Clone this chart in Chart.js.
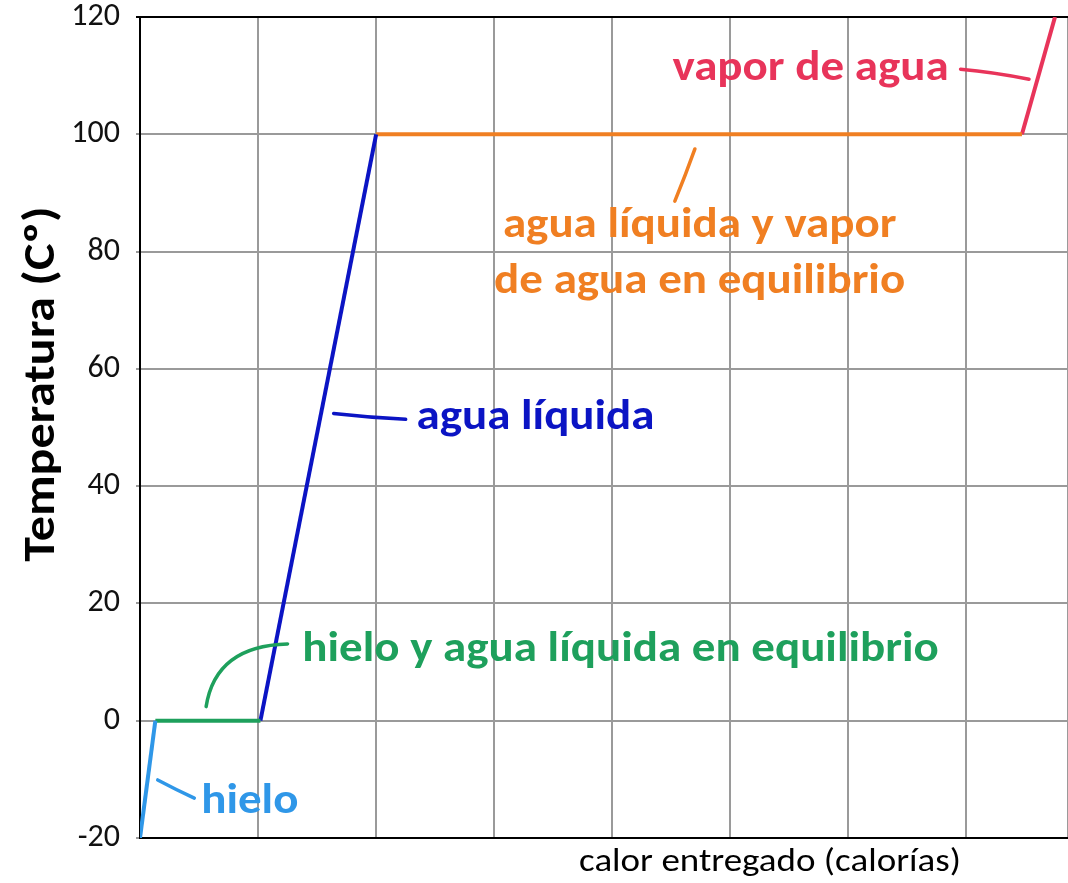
<!DOCTYPE html>
<html>
<head>
<meta charset="utf-8">
<script src="https://cdn.jsdelivr.net/npm/chart.js@4/dist/chart.umd.min.js"></script>
<style>
  html, body { margin: 0; padding: 0; background: #fff; }
  #wrap { width: 1068px; height: 883px; }
</style>
</head>
<body>
<div id="wrap"><canvas id="heatChart"></canvas></div>
<script>
// curva de calentamiento del agua
const phaseNames = ['hielo', 'hielo y agua líquida en equilibrio', 'agua líquida', 'agua líquida y vapor de agua en equilibrio', 'vapor de agua'];
const phaseColors = ['#2f97e8', '#1ea05c', '#0b14c4', '#f07f22', '#e8345a'];
const heatValues = [0, 0.13, 1.02, 2, 7.47, 7.75];   // calor entregado (unidades de grilla)
const tempValues = [-20, 0, 0, 100, 100, 120];        // temperatura (°C)
const yTicks = [-20, 0, 20, 40, 60, 80, 100, 120];

const FONT = 'Carlito, Lato, "Open Sans", sans-serif';

// one dataset per phase, each segment goes from point i to i+1
const datasets = phaseNames.map((name, i) => ({
    label: name,
    data: [{x: heatValues[i], y: tempValues[i]}, {x: heatValues[i + 1], y: tempValues[i + 1]}],
    borderColor: phaseColors[i],
    borderWidth: 4,
    pointRadius: 0,
    tension: 0
}));

// text labels + leader strokes, in data coordinates
const notes = [
    {lines: ['vapor de agua'], color: 4, x: 5.68, y: 109.2, lead: [[6.95, 111.1], [7.23, 110.6], [7.53, 109.4]]},
    {lines: ['agua líquida y vapor', 'de agua en equilibrio'], color: 3, x: 4.74, y: 82.4, gap: 9.5, lead: [[4.70, 97.5], [4.62, 93.0], [4.53, 88.6]]},
    {lines: ['agua líquida'], color: 2, x: 3.35, y: 49.8, lead: [[1.64, 52.4], [1.95, 51.7], [2.25, 51.4]]},
    {lines: ['hielo y agua líquida en equilibrio'], color: 1, x: 4.07, y: 10.2, lead: [[0.56, 2.4], [0.64, 12.8], [1.25, 13.1]]},
    {lines: ['hielo'], color: 0, x: 0.93, y: -15.7, lead: [[0.15, -10.1], [0.31, -11.8], [0.46, -13.2]]}
];

function squashText(ctx, text, x, y, sy) {
    ctx.save();
    ctx.translate(x, y);
    ctx.scale(1, sy);
    ctx.fillText(text, 0, 0);
    ctx.restore();
}

const notesPlugin = {
    id: 'notes',
    afterDatasetsDraw(chart) {
        const ctx = chart.ctx;
        const xs = chart.scales.x, ys = chart.scales.y;
        ctx.save();
        notes.forEach(n => {
            const col = phaseColors[n.color];
            ctx.strokeStyle = col;
            ctx.lineWidth = 3.5;
            ctx.lineCap = 'round';
            const p = n.lead.map(q => [xs.getPixelForValue(q[0]), ys.getPixelForValue(q[1])]);
            ctx.beginPath();
            ctx.moveTo(p[0][0], p[0][1]);
            ctx.quadraticCurveTo(p[1][0], p[1][1], p[2][0], p[2][1]);
            ctx.stroke();

            ctx.fillStyle = col;
            ctx.font = 'bold 47px ' + FONT;
            ctx.textAlign = 'center';
            ctx.textBaseline = 'alphabetic';
            n.lines.forEach((t, k) => {
                squashText(ctx, t, xs.getPixelForValue(n.x), ys.getPixelForValue(n.y - k * (n.gap || 0)), 0.9);
            });
        });

        // axis titles
        ctx.fillStyle = '#000';
        ctx.font = '37px ' + FONT;
        ctx.textAlign = 'center';
        squashText(ctx, 'calor entregado (calorías)', 770, 871, 0.86);

        ctx.save();
        ctx.translate(54, 384);
        ctx.rotate(-Math.PI / 2);
        ctx.font = 'bold 50px ' + FONT;
        squashText(ctx, 'Temperatura (Cº)', 0, 0, 0.88);
        ctx.restore();
        ctx.restore();
    }
};

new Chart(document.getElementById('heatChart'), {
    type: 'line',
    data: { datasets: datasets },
    options: {
        responsive: true,
        maintainAspectRatio: false,
        animation: false,
        layout: { padding: { top: 17, left: 0, right: 0, bottom: 0 } },
        plugins: {
            legend: { display: false },
            tooltip: { enabled: false }
        },
        scales: {
            x: {
                type: 'linear',
                min: 0,
                max: 7.86,
                ticks: { display: false, stepSize: 1 },
                grid: {
                    color: ctx => ctx.tick.value === 0 ? '#000' : '#9a9a9a',
                    lineWidth: 2,
                    drawTicks: false
                },
                border: { color: '#000', width: 2 },
                afterFit: s => { s.height = 45; }
            },
            y: {
                min: -20,
                max: 120,
                afterBuildTicks: s => { s.ticks = yTicks.map(v => ({value: v})); },
                ticks: {
                    color: '#111',
                    font: { family: FONT, size: 32, lineHeight: 0.05 },
                    padding: 16
                },
                grid: {
                    color: ctx => ctx.tick.value === 120 ? '#000' : '#9a9a9a',
                    lineWidth: 2,
                    tickLength: 4
                },
                border: { color: '#000', width: 2 },
                afterFit: s => { s.width = 140; }
            }
        }
    },
    plugins: [notesPlugin]
});
</script>
</body>
</html>
